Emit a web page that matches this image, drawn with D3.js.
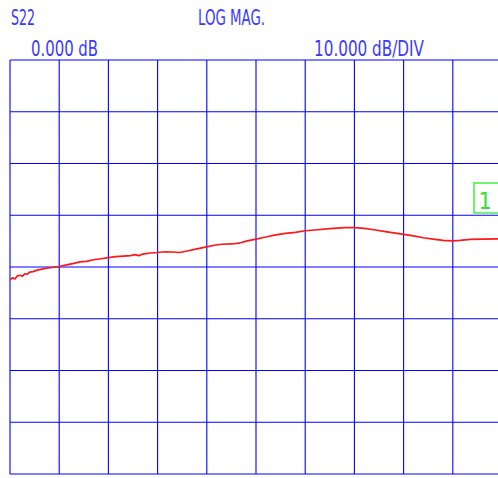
<!DOCTYPE html>
<html>
<head>
<meta charset="utf-8">
<script src="https://cdn.jsdelivr.net/npm/d3@7"></script>
<style>
  html, body { margin: 0; padding: 0; background: #fff; }
  svg { display: block; }
  text { font-family: "Liberation Sans Narrow", "DejaVu Sans Condensed", "Liberation Sans", sans-serif; }
</style>
</head>
<body>
<svg id="chart" width="498" height="478"></svg>
<script>
// ---- data ----
const xDivTicks = [0, 1, 2, 3, 4, 5, 6, 7, 8, 9, 10];
const yDbTicks = [0, -10, -20, -30, -40, -50, -60, -70, -80];
const traceDiv = [0.00, 0.05, 0.10, 0.15, 0.20, 0.25, 0.30, 0.35, 0.40, 0.47, 0.55, 0.65, 0.75, 0.85, 1.00,
  1.15, 1.30, 1.42, 1.55, 1.70, 1.85, 2.00, 2.15, 2.30, 2.45, 2.54, 2.62, 2.70, 2.85, 3.00,
  3.15, 3.30, 3.45, 3.60, 3.80, 4.00, 4.15, 4.30, 4.50, 4.65, 4.80, 5.00, 5.20, 5.40, 5.60,
  5.80, 6.00, 6.20, 6.50, 6.80, 7.00, 7.20, 7.40, 7.60, 7.80, 8.00, 8.20, 8.40, 8.60, 8.80,
  9.00, 9.15, 9.35, 9.60, 9.92];
const traceDb = [-42.5, -42.1, -42.3, -41.7, -41.6, -41.8, -41.3, -41.4, -41.0, -40.9, -40.6, -40.4, -40.2, -40.1, -39.9,
  -39.6, -39.3, -39.0, -38.9, -38.6, -38.4, -38.2, -38.0, -37.9, -37.8, -37.6, -37.8, -37.5, -37.3, -37.2,
  -37.05, -37.1, -37.2, -36.9, -36.5, -36.1, -35.8, -35.6, -35.55, -35.4, -35.0, -34.6, -34.2, -33.8, -33.5,
  -33.3, -33.0, -32.85, -32.6, -32.4, -32.4, -32.55, -32.8, -33.1, -33.4, -33.7, -34.0, -34.35, -34.6, -34.85,
  -34.95, -34.85, -34.65, -34.6, -34.55];
const headerLabels = ["S22", "LOG MAG."];
const scaleLabels = ["0.000 dB", "10.000 dB/DIV"];
const markerLabel = "1";

// ---- drawing ----
const svg = d3.select("#chart");
const x = d3.scaleLinear().domain([0, 10]).range([10, 502]);
const y = d3.scaleLinear().domain([-80, 0]).range([474, 60]);
const blue = "#3a3aff";

svg.append("rect").attr("width", 498).attr("height", 478).attr("fill", "#fff");

const grid = svg.append("g").attr("stroke", "#0000ff").attr("stroke-width", 1.1);
grid.selectAll("line.v").data(xDivTicks).join("line")
  .attr("x1", d => x(d)).attr("x2", d => x(d))
  .attr("y1", y(0)).attr("y2", y(-80));
grid.selectAll("line.h").data(yDbTicks).join("line")
  .attr("x1", x(0)).attr("x2", x(10))
  .attr("y1", d => y(d)).attr("y2", d => y(d));

const line = d3.line().x((d, i) => x(traceDiv[i])).y(d => y(d));
svg.append("path").datum(traceDb)
  .attr("d", line)
  .attr("fill", "none")
  .attr("stroke", "#ff1818")
  .attr("stroke-width", 1.7)
  .attr("stroke-linejoin", "round");

function label(t, x0, x1, base, size, color) {
  svg.append("text").text(t)
    .attr("x", x0).attr("y", base)
    .attr("font-size", size)
    .attr("fill", color)
    .attr("textLength", x1 - x0)
    .attr("lengthAdjust", "spacingAndGlyphs");
}
label(headerLabels[0], 11, 35, 25, 21, blue);
label(headerLabels[1], 198, 265, 25, 21, blue);
label(scaleLabels[0], 31, 98, 56, 21, blue);
label(scaleLabels[1], 314, 424, 56, 21, blue);

// channel marker box
svg.append("rect")
  .attr("x", 474).attr("y", 183).attr("width", 30).attr("height", 30)
  .attr("fill", "#fff").attr("stroke", "#44ee44").attr("stroke-width", 1.5);
svg.append("text").text(markerLabel)
  .attr("x", 485).attr("y", 209)
  .attr("font-size", 23).attr("fill", "#33dd33")
  .attr("text-anchor", "middle");
</script>
</body>
</html>
